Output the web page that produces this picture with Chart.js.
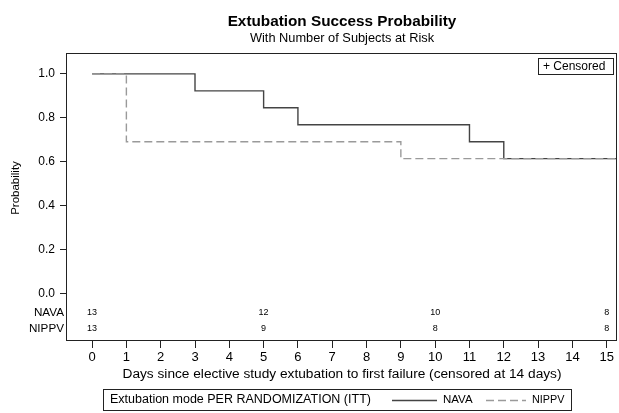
<!DOCTYPE html>
<html lang="en">
<head>
<meta charset="UTF-8">
<title>Extubation Success Probability</title>
<script src="https://cdn.jsdelivr.net/npm/chart.js@4.4.7/dist/chart.umd.min.js"></script>
<style>
*{margin:0;padding:0;box-sizing:border-box}
body{background:#fff;width:619px;height:413px;overflow:hidden}
#wrap{position:relative;width:619px;height:413px}
</style>
</head>
<body>
<div id="wrap"><canvas id="km"></canvas></div>
<script>
// Kaplan-Meier steps (time in days, survival probability)
const navaTimes = [0, 3, 5, 6, 11, 12, 15.3];
const navaSurv = [1.0, 0.923, 0.846, 0.769, 0.692, 0.615, 0.615];
const nippvTimes = [0, 1, 9, 15.3];
const nippvSurv = [1.0, 0.692, 0.615, 0.615];

// number at risk table
const riskTimes = [0, 5, 10, 15];
const navaRisk = [13, 12, 10, 8];
const nippvRisk = [13, 9, 8, 8];

const xTicks = [0, 1, 2, 3, 4, 5, 6, 7, 8, 9, 10, 11, 12, 13, 14, 15];
const yTicks = [0, 0.2, 0.4, 0.6, 0.8, 1.0];

const FONT = "'Liberation Sans', Arial, sans-serif";
const navaColor = '#444', nippvColor = '#9a9a9a';

const toPts = (xs, ys) => xs.map((x, i) => ({ x, y: ys[i] }));

const decor = {
  id: 'decor',
  afterDraw(chart) {
    const { ctx, chartArea: a, scales: { x } } = chart;
    ctx.save();
    // frame
    ctx.strokeStyle = '#222';
    ctx.lineWidth = 1;
    ctx.strokeRect(a.left + 0.5, a.top + 0.5, a.right - a.left - 1, a.bottom - a.top - 1);

    ctx.fillStyle = '#000';
    ctx.textAlign = 'center';
    ctx.textBaseline = 'middle';
    ctx.font = 'bold 15.3px ' + FONT;
    ctx.fillText('Extubation Success Probability', 342, 22);
    ctx.font = '12.8px ' + FONT;
    ctx.fillText('With Number of Subjects at Risk', 342, 38);

    ctx.font = '13.7px ' + FONT;
    ctx.fillText('Days since elective study extubation to first failure (censored at 14 days)', 342, 374);

    ctx.save();
    ctx.translate(16, 188);
    ctx.rotate(-Math.PI / 2);
    ctx.font = '11.5px ' + FONT;
    ctx.fillText('Probability', 0, 0);
    ctx.restore();

    // at risk rows
    ctx.font = '9px ' + FONT;
    riskTimes.forEach((t, i) => {
      ctx.fillText(String(navaRisk[i]), x.getPixelForValue(t), 313);
      ctx.fillText(String(nippvRisk[i]), x.getPixelForValue(t), 329);
    });
    ctx.textAlign = 'right';
    ctx.font = '11.7px ' + FONT;
    ctx.fillText('NAVA', a.left - 2, 313);
    ctx.fillText('NIPPV', a.left - 2, 329);

    // censored box
    ctx.strokeStyle = '#222';
    ctx.strokeRect(538.5, 58.5, 75, 16);
    ctx.textAlign = 'left';
    ctx.font = '12px ' + FONT;
    ctx.fillText('+ Censored', 543, 67);

    // legend box
    ctx.strokeRect(103.5, 389.5, 468, 21);
    ctx.font = '12.5px ' + FONT;
    ctx.fillText('Extubation mode PER RANDOMIZATION (ITT)', 110, 400);
    ctx.lineWidth = 1.3;
    ctx.strokeStyle = navaColor;
    ctx.beginPath(); ctx.moveTo(392, 400.5); ctx.lineTo(437, 400.5); ctx.stroke();
    ctx.font = '11.5px ' + FONT;
    ctx.fillText('NAVA', 443, 400);
    ctx.strokeStyle = nippvColor;
    ctx.setLineDash([8, 4]);
    ctx.beginPath(); ctx.moveTo(486, 400.5); ctx.lineTo(526, 400.5); ctx.stroke();
    ctx.setLineDash([]);
    ctx.font = '10.8px ' + FONT;
    ctx.fillText('NIPPV', 532, 400);
    ctx.restore();
  }
};

new Chart(document.getElementById('km'), {
  type: 'line',
  data: {
    datasets: [{
      label: 'NIPPV',
      data: toPts(nippvTimes, nippvSurv),
      borderColor: nippvColor,
      borderWidth: 1.4,
      borderDash: [8, 4],
      stepped: 'before',
      pointRadius: 0,
      fill: false,
    }, {
      label: 'NAVA',
      data: toPts(navaTimes, navaSurv),
      borderColor: navaColor,
      borderWidth: 1.4,
      stepped: 'before',
      pointRadius: 0,
      fill: false,
    }]
  },
  options: {
    responsive: true,
    maintainAspectRatio: false,
    animation: false,
    events: [],
    layout: { padding: { left: 0, top: 53, right: 2, bottom: 0 } },
    plugins: { legend: { display: false }, title: { display: false }, tooltip: { enabled: false } },
    scales: {
      x: {
        type: 'linear',
        min: -0.76,
        max: 15.3,
        afterBuildTicks: s => { s.ticks = xTicks.map(v => ({ value: v })); },
        afterFit: s => { s.height = 72; },
        grid: { drawOnChartArea: false, tickLength: 7, tickColor: '#222' },
        border: { display: false },
        ticks: { color: '#000', font: { family: FONT, size: 13 }, padding: 2, maxRotation: 0 },
      },
      y: {
        type: 'linear',
        min: -0.2136,
        max: 1.095,
        afterBuildTicks: s => { s.ticks = yTicks.map(v => ({ value: v })); },
        afterFit: s => { s.width = 66; },
        grid: { drawOnChartArea: false, tickLength: 6, tickColor: '#222' },
        border: { display: false },
        ticks: { color: '#000', font: { family: FONT, size: 12 }, padding: 5, callback: v => v.toFixed(1) },
      }
    }
  },
  plugins: [decor]
});
</script>
</body>
</html>
